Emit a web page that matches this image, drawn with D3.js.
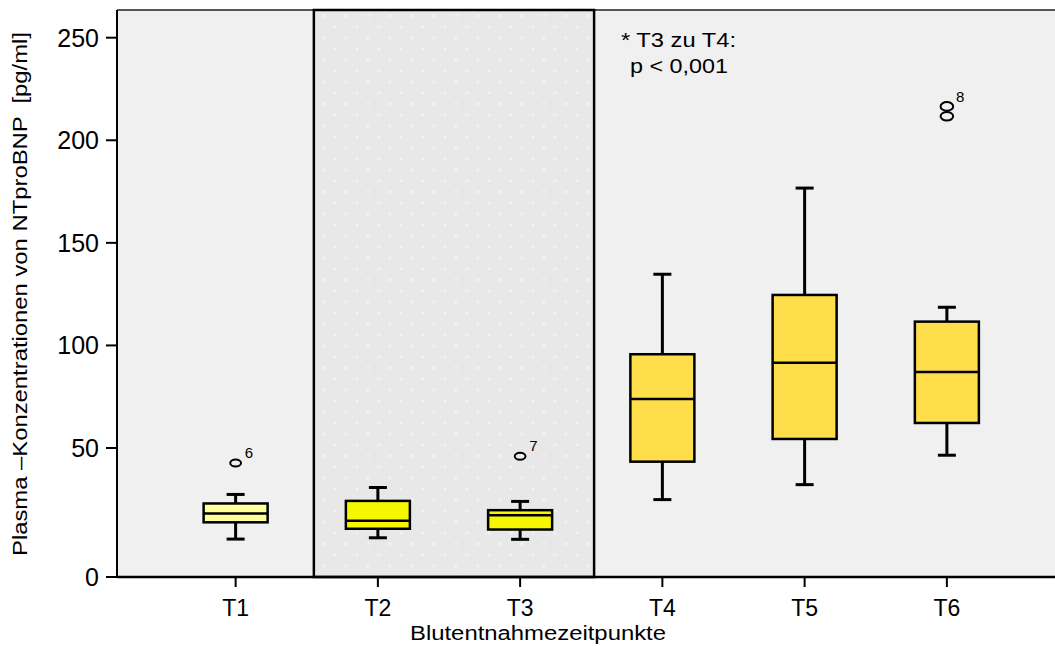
<!DOCTYPE html>
<html>
<head>
<meta charset="utf-8">
<script src="https://cdn.jsdelivr.net/npm/d3@7"></script>
<style>
  body { margin: 0; background: #fff; }
  svg { display: block; font-family: "Liberation Sans", Arial, sans-serif; }
</style>
</head>
<body>
<div id="chart"></div>
<script>
// data
const categories = ["T1", "T2", "T3", "T4", "T5", "T6"];
const whiskerLow = [14.7, 15.2, 14.6, 30.0, 35.8, 47.2];
const q1 = [21.2, 18.7, 18.4, 44.7, 54.4, 62.2];
const median = [24.6, 21.8, 23.9, 73.9, 91.6, 87.0];
const q3 = [28.5, 29.5, 25.9, 95.7, 124.6, 111.6];
const whiskerHigh = [32.0, 34.7, 29.3, 134.7, 176.7, 118.6];
const outlierCats = ["T1", "T3", "T6", "T6"];
const outlierValues = [44.2, 46.8, 216.5, 211.7];
const outlierLabels = ["6", "7", "", "8"];
const yTicks = [0, 50, 100, 150, 200, 250];
const boxFills = ["#ffff9c", "#f6f600", "#f6f600", "#ffde4c", "#ffde4c", "#ffde4c"];

const W = 1055, H = 646;
const plotL = 117, plotR = 1055, plotT = 10, plotB = 577;

let svg = d3.select("#chart")
    .append("svg")
    .attr("width", W)
    .attr("height", H);

// y axis: 0 tick sits lower than the linear part (as in the original)
let y = d3.scaleLinear()
    .domain([0, 50, 263.5])
    .range([plotB, 448, plotT]);

let x = d3.scaleBand()
    .domain(categories)
    .range([164.5, 1018])
    .paddingInner(0)
    .paddingOuter(0);

const cx = d => x(d) + x.bandwidth() / 2;
const boxW = x.bandwidth() * 0.45;

// pattern for shaded T2-T3 region
let defs = svg.append("defs");
let pat = defs.append("pattern")
    .attr("id", "dots")
    .attr("width", 22)
    .attr("height", 22)
    .attr("patternUnits", "userSpaceOnUse");
pat.append("rect").attr("width", 22).attr("height", 22).attr("fill", "#e7e7e7");
for (let i = 0; i < 22; i += 2) {
    for (let j = (i / 2) % 2; j < 22; j += 2) {
        pat.append("rect").attr("x", i).attr("y", j).attr("width", 1).attr("height", 1).attr("fill", "#ebebeb");
    }
}
[[5, 5], [16, 16]].forEach(p => {
    pat.append("path")
        .attr("d", `M${p[0]},${p[1] - 2}L${p[0] + 2},${p[1]}L${p[0]},${p[1] + 2}L${p[0] - 2},${p[1]}Z`)
        .attr("fill", "#f2f2f2");
});

// plot background
svg.append("rect")
    .attr("x", plotL).attr("y", plotT)
    .attr("width", plotR - plotL).attr("height", plotB - plotT)
    .attr("fill", "#f0f0f0");

svg.append("line")
    .attr("x1", plotL).attr("x2", plotR)
    .attr("y1", plotT).attr("y2", plotT)
    .attr("stroke", "#555").attr("stroke-width", 2);

// shaded region T2..T3
let step = x.step();
let shadeL = cx("T2") - step * 0.45;
let shadeR = cx("T3") + step * 0.52;
svg.append("rect")
    .attr("x", shadeL).attr("y", plotT)
    .attr("width", shadeR - shadeL).attr("height", plotB - plotT)
    .attr("fill", "url(#dots)")
    .attr("stroke", "#000")
    .attr("stroke-width", 2.5);

// boxes
let boxes = svg.append("g").selectAll("g")
    .data(categories)
    .enter()
    .append("g");

boxes.append("line")
    .attr("x1", d => cx(d)).attr("x2", d => cx(d))
    .attr("y1", (d, i) => y(whiskerHigh[i]))
    .attr("y2", (d, i) => y(whiskerLow[i]))
    .attr("stroke", "#000").attr("stroke-width", 3);

["high", "low"].forEach(k => {
    boxes.append("line")
        .attr("x1", d => cx(d) - 9).attr("x2", d => cx(d) + 9)
        .attr("y1", (d, i) => y(k == "high" ? whiskerHigh[i] : whiskerLow[i]))
        .attr("y2", (d, i) => y(k == "high" ? whiskerHigh[i] : whiskerLow[i]))
        .attr("stroke", "#000").attr("stroke-width", 3);
});

boxes.append("rect")
    .attr("x", d => cx(d) - boxW / 2)
    .attr("width", boxW)
    .attr("y", (d, i) => y(q3[i]))
    .attr("height", (d, i) => y(q1[i]) - y(q3[i]))
    .attr("fill", (d, i) => boxFills[i])
    .attr("stroke", "#000").attr("stroke-width", 2.5);

boxes.append("line")
    .attr("x1", d => cx(d) - boxW / 2).attr("x2", d => cx(d) + boxW / 2)
    .attr("y1", (d, i) => y(median[i]))
    .attr("y2", (d, i) => y(median[i]))
    .attr("stroke", "#000").attr("stroke-width", 2.5);

// outliers (the two at T6 overlap and read as "8")
let outs = svg.append("g").selectAll("g")
    .data(outlierValues)
    .enter()
    .append("g");

outs.append("ellipse")
    .attr("cx", (d, i) => cx(outlierCats[i]))
    .attr("cy", d => y(d))
    .attr("rx", (d, i) => outlierCats[i] == "T6" ? 6.3 : 5.4)
    .attr("ry", (d, i) => outlierCats[i] == "T6" ? 4.3 : 3.5)
    .attr("fill", "none")
    .attr("stroke", "#000").attr("stroke-width", 2);

outs.append("text")
    .attr("x", (d, i) => cx(outlierCats[i]) + 9)
    .attr("y", (d, i) => y(d) - (outlierCats[i] == "T6" ? 14 : 5))
    .attr("font-size", 15)
    .text((d, i) => outlierLabels[i]);

// y axis
svg.append("line")
    .attr("x1", plotL).attr("x2", plotL)
    .attr("y1", plotT).attr("y2", plotB)
    .attr("stroke", "#000").attr("stroke-width", 2);

let yt = svg.append("g").selectAll("g")
    .data(yTicks)
    .enter()
    .append("g");
yt.append("line")
    .attr("x1", plotL - 11).attr("x2", plotL)
    .attr("y1", d => y(d)).attr("y2", d => y(d))
    .attr("stroke", "#000").attr("stroke-width", 2);
yt.append("text")
    .attr("x", plotL - 18)
    .attr("y", d => y(d) + 9)
    .attr("text-anchor", "end")
    .attr("font-size", 25)
    .text(d => d);

// x axis
svg.append("line")
    .attr("x1", plotL).attr("x2", plotR)
    .attr("y1", plotB).attr("y2", plotB)
    .attr("stroke", "#000").attr("stroke-width", 2.5);

let xt = svg.append("g").selectAll("g")
    .data(categories)
    .enter()
    .append("g");
xt.append("line")
    .attr("x1", d => cx(d)).attr("x2", d => cx(d))
    .attr("y1", plotB).attr("y2", plotB + 10)
    .attr("stroke", "#000").attr("stroke-width", 2);
xt.append("text")
    .attr("x", d => cx(d))
    .attr("y", 616)
    .attr("text-anchor", "middle")
    .attr("font-size", 23)
    .text(d => d);

// axis titles
svg.append("text")
    .attr("x", 410).attr("y", 640)
    .attr("font-size", 20)
    .attr("textLength", 256)
    .attr("lengthAdjust", "spacingAndGlyphs")
    .text("Blutentnahmezeitpunkte");

svg.append("text")
    .attr("transform", "translate(27, 556) rotate(-90)")
    .attr("font-size", 21)
    .attr("textLength", 524)
    .attr("lengthAdjust", "spacingAndGlyphs")
    .attr("xml:space", "preserve")
    .text("Plasma \u2013Konzentrationen von NTproBNP  [pg/ml]");

// annotation
svg.append("text")
    .attr("x", 621).attr("y", 47)
    .attr("font-size", 21)
    .attr("textLength", 115)
    .attr("lengthAdjust", "spacingAndGlyphs")
    .text("* T3 zu T4:");
svg.append("text")
    .attr("x", 630).attr("y", 73)
    .attr("font-size", 21)
    .attr("textLength", 98)
    .attr("lengthAdjust", "spacingAndGlyphs")
    .text("p < 0,001");
</script>
</body>
</html>
